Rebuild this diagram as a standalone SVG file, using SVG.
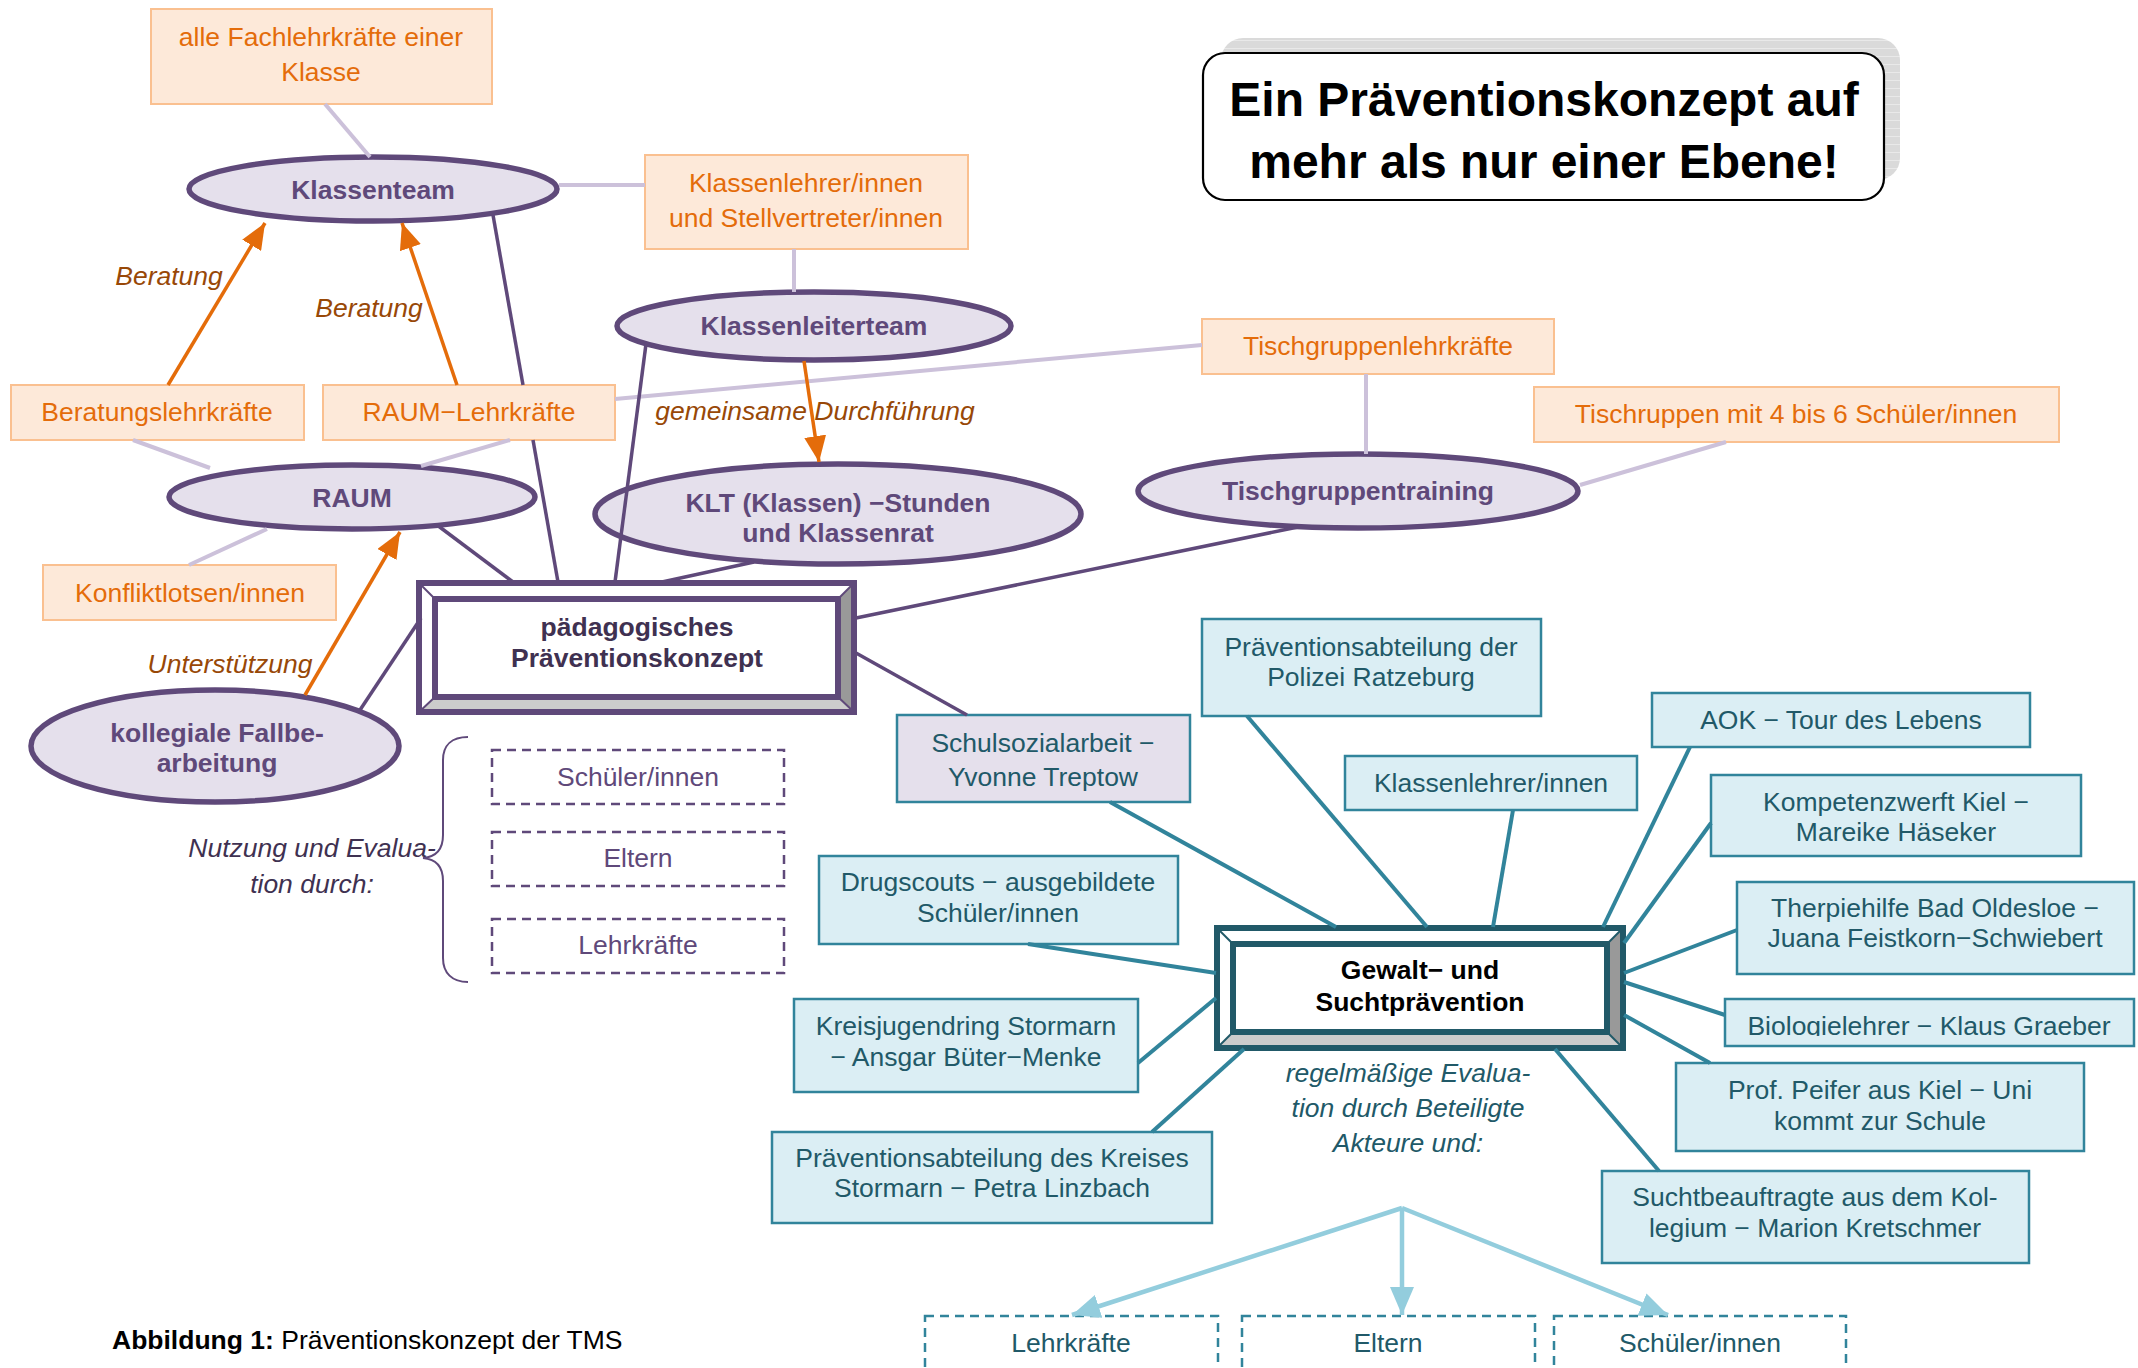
<svg xmlns="http://www.w3.org/2000/svg" width="2138" height="1368" viewBox="0 0 2138 1368">
<style>
text{font-family:"Liberation Sans",Arial,sans-serif;font-size:26.5px;text-anchor:middle}
.ob{fill:#FDE9D9;stroke:#FAC090;stroke-width:2}
.ot{fill:#E46C0A}
.el{fill:#E5E0EC;stroke:#5F497A;stroke-width:5.5}
.et{fill:#5F497A;font-weight:bold}
.tb{fill:#DBEEF4;stroke:#31849B;stroke-width:2.5}
.sb{fill:#E5E0EC;stroke:#31849B;stroke-width:2.5}
.tt{fill:#215968}
.dpb{fill:none;stroke:#5F497A;stroke-width:2.5;stroke-dasharray:9 6}
.dpt{fill:#5F497A}
.dtb{fill:none;stroke:#31849B;stroke-width:2.5;stroke-dasharray:9 6}
.lp{stroke:#CCC1DA;stroke-width:4;fill:none}
.dp{stroke:#5F497A;stroke-width:3.5;fill:none}
.tl{stroke:#31849B;stroke-width:4;fill:none}
.oa{stroke:#E46C0A;stroke-width:3.5;fill:none;marker-end:url(#ah)}
.ba{stroke:#93CDDD;stroke-width:4.5;fill:none;marker-end:url(#bh)}
.lab{fill:#984807;font-style:italic}
</style>
<defs>
<marker id="ah" markerUnits="userSpaceOnUse" markerWidth="26" markerHeight="22" refX="26" refY="11" orient="auto"><path d="M0,0 L26,11 L0,22 z" fill="#E46C0A"/></marker>
<marker id="bh" markerUnits="userSpaceOnUse" markerWidth="28" markerHeight="24" refX="28" refY="12" orient="auto"><path d="M0,0 L28,12 L0,24 z" fill="#93CDDD"/></marker>
<pattern id="sh" width="8" height="8" patternUnits="userSpaceOnUse"><rect width="8" height="8" fill="#DADADA"/><line x1="0" y1="0.5" x2="8" y2="0.5" stroke="#E9E9E9" stroke-width="1"/></pattern>
<clipPath id="bioclip"><rect x="1725" y="999" width="409" height="37"/></clipPath>
</defs>
<rect width="2138" height="1368" fill="#fff"/>

<g id="title">
<rect x="1221" y="38" width="679" height="142" rx="22" fill="url(#sh)"/>
<rect x="1203" y="53" width="681" height="147" rx="22" fill="#fff" stroke="#000" stroke-width="2.2"/>
<text x="1544" y="116" style="font-size:48px;font-weight:bold" fill="#000">Ein Präventionskonzept auf</text>
<text x="1544" y="178" style="font-size:48px;font-weight:bold" fill="#000">mehr als nur einer Ebene!</text>
</g>

<g id="n-fachlehrkraefte"><rect class="ob" x="151" y="9" width="341" height="95"/><text class="ot" x="321" y="46">alle Fachlehrkräfte einer</text><text class="ot" x="321" y="81">Klasse</text></g>
<g id="n-klassenteam"><ellipse class="el" cx="373" cy="189" rx="184" ry="32"/><text class="et" x="373" y="199">Klassenteam</text></g>
<g id="n-klassenlehrer-stellv"><rect class="ob" x="645" y="155" width="323" height="94"/><text class="ot" x="806" y="192">Klassenlehrer/innen</text><text class="ot" x="806" y="227">und Stellvertreter/innen</text></g>
<g id="n-klassenleiterteam"><ellipse class="el" cx="814" cy="326" rx="197" ry="34"/><text class="et" x="814" y="335">Klassenleiterteam</text></g>
<g id="n-beratungslehrkraefte"><rect class="ob" x="11" y="385" width="293" height="55"/><text class="ot" x="157" y="421">Beratungslehrkräfte</text></g>
<g id="n-raum-lehrkraefte"><rect class="ob" x="323" y="385" width="292" height="55"/><text class="ot" x="469" y="421">RAUM−Lehrkräfte</text></g>
<g id="n-tischgruppenlehrkraefte"><rect class="ob" x="1202" y="319" width="352" height="55"/><text class="ot" x="1378" y="355">Tischgruppenlehrkräfte</text></g>
<g id="n-tischruppen"><rect class="ob" x="1534" y="387" width="525" height="55"/><text class="ot" x="1796" y="423">Tischruppen mit 4 bis 6 Schüler/innen</text></g>
<g id="n-raum"><ellipse class="el" cx="352" cy="497" rx="183" ry="32"/><text class="et" x="352" y="507">RAUM</text></g>
<g id="n-klt"><ellipse class="el" cx="838" cy="514" rx="243" ry="50"/><text class="et" x="838" y="512">KLT (Klassen) −Stunden</text><text class="et" x="838" y="542">und Klassenrat</text></g>
<g id="n-tischgruppentraining"><ellipse class="el" cx="1358" cy="491" rx="220" ry="37"/><text class="et" x="1358" y="500">Tischgruppentraining</text></g>
<g id="n-konfliktlotsen"><rect class="ob" x="43" y="565" width="293" height="55"/><text class="ot" x="190" y="602">Konfliktlotsen/innen</text></g>
<g id="n-kollegiale"><ellipse class="el" cx="215" cy="746" rx="184" ry="56"/><text class="et" x="217" y="742">kollegiale Fallbe-</text><text class="et" x="217" y="772">arbeitung</text></g>

<g id="n-paedagogisch">
<rect x="419" y="583" width="435" height="129" fill="#fff"/>
<polygon points="419,583 854,583 838,599 435,599" fill="#fff"/>
<polygon points="419,583 435,599 435,697 419,712" fill="#fff"/>
<polygon points="854,583 854,712 838,697 838,599" fill="#999"/>
<polygon points="419,712 854,712 838,697 435,697" fill="#CCC"/>
<g stroke="#5F497A" stroke-width="2"><line x1="419" y1="583" x2="435" y2="599"/><line x1="854" y1="583" x2="838" y2="599"/><line x1="419" y1="712" x2="435" y2="697"/><line x1="854" y1="712" x2="838" y2="697"/></g>
<rect x="435" y="599" width="403" height="98" fill="#fff" stroke="#5F497A" stroke-width="6"/>
<rect x="419" y="583" width="435" height="129" fill="none" stroke="#5F497A" stroke-width="6"/>
<text x="637" y="636" style="font-weight:bold" fill="#3F3151">pädagogisches</text>
<text x="637" y="667" style="font-weight:bold" fill="#3F3151">Präventionskonzept</text>
</g>

<g id="n-nutzung-schueler"><rect class="dpb" x="492" y="750" width="292" height="54"/><text class="dpt" x="638" y="786">Schüler/innen</text></g>
<g id="n-nutzung-eltern"><rect class="dpb" x="492" y="832" width="292" height="54"/><text class="dpt" x="638" y="867">Eltern</text></g>
<g id="n-nutzung-lehrkraefte"><rect class="dpb" x="492" y="919" width="292" height="54"/><text class="dpt" x="638" y="954">Lehrkräfte</text></g>
<g id="brace">
<path d="M468,737 C452,737 443,745 443,760 L443,835 C443,850 435,857 423,858 C435,859 443,866 443,881 L443,958 C443,973 452,982 468,982" fill="none" stroke="#5F497A" stroke-width="2"/>
<text x="312" y="857" style="font-style:italic" fill="#3F3151">Nutzung und Evalua-</text>
<text x="312" y="893" style="font-style:italic" fill="#3F3151">tion durch:</text>
</g>

<g id="n-schulsozialarbeit"><rect class="sb" x="897" y="715" width="293" height="87"/><text class="tt" x="1043" y="752">Schulsozialarbeit −</text><text class="tt" x="1043" y="786">Yvonne Treptow</text></g>
<g id="n-polizei"><rect class="tb" x="1202" y="619" width="339" height="97"/><text class="tt" x="1371" y="656">Präventionsabteilung der</text><text class="tt" x="1371" y="686">Polizei Ratzeburg</text></g>
<g id="n-aok"><rect class="tb" x="1652" y="693" width="378" height="54"/><text class="tt" x="1841" y="729">AOK − Tour des Lebens</text></g>
<g id="n-klassenlehrer"><rect class="tb" x="1345" y="756" width="292" height="54"/><text class="tt" x="1491" y="792">Klassenlehrer/innen</text></g>
<g id="n-kompetenzwerft"><rect class="tb" x="1711" y="775" width="370" height="81"/><text class="tt" x="1896" y="811">Kompetenzwerft Kiel −</text><text class="tt" x="1896" y="841">Mareike Häseker</text></g>
<g id="n-drugscouts"><rect class="tb" x="819" y="856" width="359" height="88"/><text class="tt" x="998" y="891">Drugscouts − ausgebildete</text><text class="tt" x="998" y="922">Schüler/innen</text></g>
<g id="n-therpiehilfe"><rect class="tb" x="1737" y="882" width="397" height="92"/><text class="tt" x="1935" y="917">Therpiehilfe Bad Oldesloe −</text><text class="tt" x="1935" y="947">Juana Feistkorn−Schwiebert</text></g>
<g id="n-biologielehrer"><rect class="tb" x="1725" y="999" width="409" height="47"/><text class="tt" x="1929" y="1035" clip-path="url(#bioclip)">Biologielehrer − Klaus Graeber</text></g>
<g id="n-kreisjugendring"><rect class="tb" x="794" y="999" width="344" height="93"/><text class="tt" x="966" y="1035">Kreisjugendring Stormarn</text><text class="tt" x="966" y="1066">− Ansgar Büter−Menke</text></g>
<g id="n-prof"><rect class="tb" x="1676" y="1063" width="408" height="88"/><text class="tt" x="1880" y="1099">Prof. Peifer aus Kiel − Uni</text><text class="tt" x="1880" y="1130">kommt zur Schule</text></g>
<g id="n-kreis"><rect class="tb" x="772" y="1132" width="440" height="91"/><text class="tt" x="992" y="1167">Präventionsabteilung des Kreises</text><text class="tt" x="992" y="1197">Stormarn − Petra Linzbach</text></g>
<g id="n-sucht"><rect class="tb" x="1602" y="1171" width="427" height="92"/><text class="tt" x="1815" y="1206">Suchtbeauftragte aus dem Kol-</text><text class="tt" x="1815" y="1237">legium − Marion Kretschmer</text></g>

<g id="n-gewalt">
<rect x="1217" y="928" width="406" height="120" fill="#fff"/>
<polygon points="1217,928 1623,928 1607,944 1233,944" fill="#fff"/>
<polygon points="1623,928 1623,1048 1607,1032 1607,944" fill="#999"/>
<polygon points="1217,1048 1623,1048 1607,1032 1233,1032" fill="#CCC"/>
<g stroke="#215968" stroke-width="2"><line x1="1217" y1="928" x2="1233" y2="944"/><line x1="1623" y1="928" x2="1607" y2="944"/><line x1="1217" y1="1048" x2="1233" y2="1032"/><line x1="1623" y1="1048" x2="1607" y2="1032"/></g>
<rect x="1233" y="944" width="374" height="88" fill="#fff" stroke="#215968" stroke-width="6"/>
<rect x="1217" y="928" width="406" height="120" fill="none" stroke="#215968" stroke-width="6"/>
<text x="1420" y="979" style="font-weight:bold" fill="#000">Gewalt− und</text>
<text x="1420" y="1011" style="font-weight:bold" fill="#000">Suchtprävention</text>
</g>
<g id="eval-label">
<text x="1408" y="1082" style="font-style:italic" fill="#215968">regelmäßige Evalua-</text>
<text x="1408" y="1117" style="font-style:italic" fill="#215968">tion durch Beteiligte</text>
<text x="1408" y="1152" style="font-style:italic" fill="#215968">Akteure und:</text>
</g>
<g id="n-eval-lehrkraefte"><rect class="dtb" x="925" y="1316" width="293" height="70"/><text class="tt" x="1071" y="1352">Lehrkräfte</text></g>
<g id="n-eval-eltern"><rect class="dtb" x="1242" y="1316" width="293" height="70"/><text class="tt" x="1388" y="1352">Eltern</text></g>
<g id="n-eval-schueler"><rect class="dtb" x="1554" y="1316" width="292" height="70"/><text class="tt" x="1700" y="1352">Schüler/innen</text></g>

<g id="connectors">
<line class="lp" x1="325" y1="104" x2="370" y2="157"/>
<line class="lp" x1="559" y1="185" x2="645" y2="185"/>
<line class="lp" x1="794" y1="249" x2="794" y2="292"/>
<line class="lp" x1="615" y1="399" x2="1202" y2="345"/>
<line class="lp" x1="1366" y1="374" x2="1366" y2="454"/>
<line class="lp" x1="1726" y1="442" x2="1580" y2="485"/>
<line class="lp" x1="133" y1="440" x2="210" y2="468"/>
<line class="lp" x1="510" y1="440" x2="421" y2="466"/>
<line class="lp" x1="189" y1="565" x2="267" y2="529"/>

<line class="dp" x1="493" y1="215" x2="523" y2="385"/>
<line class="dp" x1="533" y1="440" x2="558" y2="582"/>
<line class="dp" x1="646" y1="344" x2="615" y2="582"/>
<line class="dp" x1="437" y1="525" x2="513" y2="582"/>
<line class="dp" x1="754" y1="562" x2="662" y2="582"/>
<line class="dp" x1="1298" y1="527" x2="856" y2="618"/>
<line class="dp" x1="360" y1="710" x2="421" y2="618"/>
<line class="dp" x1="856" y1="653" x2="967" y2="715"/>

<line class="oa" x1="168" y1="385" x2="265" y2="223"/>
<line class="oa" x1="457" y1="385" x2="402" y2="223"/>
<line class="oa" x1="804" y1="361" x2="819" y2="462"/>
<line class="oa" x1="305" y1="695" x2="400" y2="532"/>

<line class="tl" x1="1110" y1="802" x2="1336" y2="927"/>
<line class="tl" x1="1247" y1="716" x2="1427" y2="927"/>
<line class="tl" x1="1513" y1="810" x2="1493" y2="927"/>
<line class="tl" x1="1690" y1="747" x2="1603" y2="927"/>
<line class="tl" x1="1711" y1="823" x2="1624" y2="943"/>
<line class="tl" x1="1737" y1="930" x2="1624" y2="973"/>
<line class="tl" x1="1624" y1="982" x2="1725" y2="1015"/>
<line class="tl" x1="1624" y1="1015" x2="1710" y2="1063"/>
<line class="tl" x1="1555" y1="1049" x2="1659" y2="1171"/>
<line class="tl" x1="1244" y1="1049" x2="1152" y2="1132"/>
<line class="tl" x1="1138" y1="1063" x2="1216" y2="998"/>
<line class="tl" x1="1028" y1="944" x2="1216" y2="973"/>

<line class="ba" x1="1402" y1="1208" x2="1072" y2="1315"/>
<line class="ba" x1="1402" y1="1208" x2="1402" y2="1315"/>
<line class="ba" x1="1402" y1="1208" x2="1668" y2="1315"/>

<text class="lab" x="169" y="285">Beratung</text>
<text class="lab" x="369" y="317">Beratung</text>
<text class="lab" x="815" y="420">gemeinsame Durchführung</text>
<text class="lab" x="230" y="673">Unterstützung</text>
</g>

<text x="112" y="1349" style="text-anchor:start" fill="#000"><tspan style="font-weight:bold">Abbildung 1:</tspan> Präventionskonzept der TMS</text>
</svg>
